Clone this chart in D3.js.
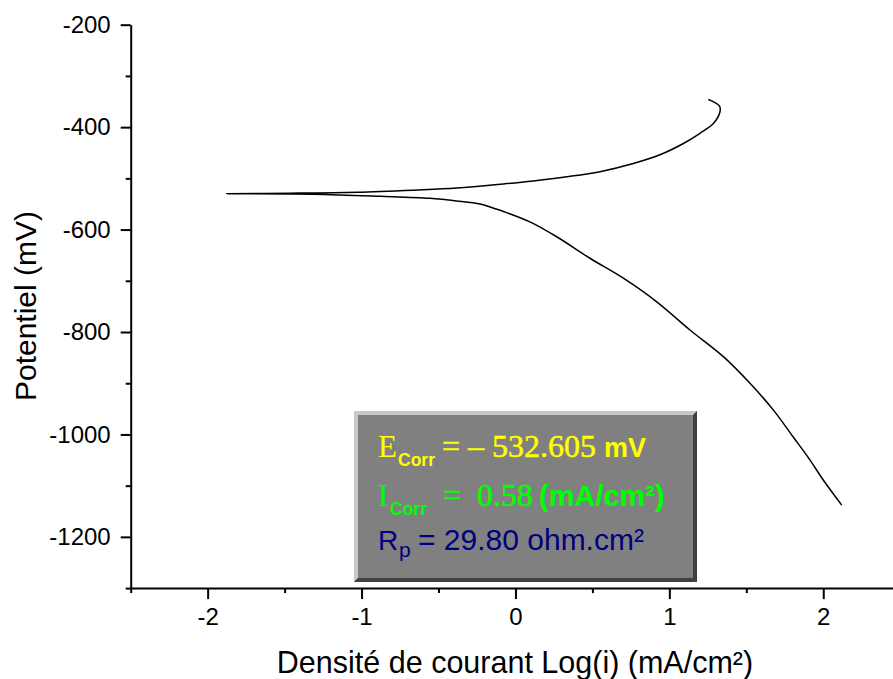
<!DOCTYPE html>
<html>
<head>
<meta charset="utf-8">
<script src="https://cdn.jsdelivr.net/npm/d3@7"></script>
<style>
  html, body { margin: 0; padding: 0; background: #fff; }
  svg { display: block; }
</style>
</head>
<body>
<svg id="chart" width="893" height="679"></svg>
<script>
// ---- Data ----
const logCurrent = [2.12, 2.00, 1.914, 1.805, 1.675, 1.524, 1.351, 1.134, 0.918, 0.701, 0.484, 0.268, 0.094, -0.057, -0.165, -0.23, -0.382, -0.555, -0.88, -1.314, -1.876, -1.465, -1.032, -0.664, -0.382, -0.079, 0.116, 0.333, 0.549, 0.766, 0.939, 1.091, 1.199, 1.286, 1.329, 1.326, 1.29, 1.253];
const potential  = [-1138, -1089, -1050, -1005, -952, -900, -848, -796, -741, -695, -656, -614, -585, -567, -556, -550, -544, -539, -535, -531, -530, -529, -527, -523, -519, -511, -505, -497, -487, -471, -454, -432, -412, -393, -370, -359, -351, -346];

const xMajorTicks = [-2, -1, 0, 1, 2];
const xMinorTicks = [-2.5, -1.5, -0.5, 0.5, 1.5, 2.5];
const yMajorTicks = [-1200, -1000, -800, -600, -400, -200];
const yMinorTicks = [-1300, -1100, -900, -700, -500, -300];

const xTitle = "Densité de courant Log(i) (mA/cm²)";
const yTitle = "Potentiel (mV)";

// ---- Layout ----
const svg = d3.select("#chart");
const x = d3.scaleLinear().domain([-2.5, 2.5]).range([130.7, 900.2]);
const y = d3.scaleLinear().domain([-1300, -200]).range([588.1, 24.7]);
const sans = "'Liberation Sans', Arial, sans-serif";
const serif = "'Liberation Serif', 'Times New Roman', serif";

// X axis
const gx = svg.append("g").attr("transform", `translate(0,${y(-1300)})`);
const gxMajor = gx.append("g").call(d3.axisBottom(x).tickValues(xMajorTicks).tickSize(11).tickSizeOuter(0).tickPadding(9)
  .tickFormat(d => String(d)));
gx.append("g").call(d3.axisBottom(x).tickValues(xMinorTicks).tickSize(5).tickSizeOuter(0).tickFormat(() => ""))
  .call(g => g.select(".domain").remove())
  .call(g => g.selectAll("text").remove());
gxMajor.selectAll("text").attr("font-family", sans).attr("font-size", 24).attr("fill", "#000");

// Y axis
const gy = svg.append("g").attr("transform", `translate(${x(-2.5)},0)`);
const gyMajor = gy.append("g").call(d3.axisLeft(y).tickValues(yMajorTicks).tickSize(10).tickSizeOuter(0).tickPadding(10)
  .tickFormat(d => String(d)));
gy.append("g").call(d3.axisLeft(y).tickValues(yMinorTicks).tickSize(5).tickSizeOuter(0).tickFormat(() => ""))
  .call(g => g.select(".domain").remove())
  .call(g => g.selectAll("text").remove());
gyMajor.selectAll("text").attr("font-family", sans).attr("font-size", 24).attr("fill", "#000");

svg.selectAll(".domain").attr("stroke", "#000").attr("stroke-width", 2);
svg.selectAll(".tick line").attr("stroke", "#000").attr("stroke-width", 2);

// Axis titles
svg.append("text")
  .attr("x", 515).attr("y", 673)
  .attr("text-anchor", "middle")
  .attr("font-family", sans).attr("font-size", 30.5)
  .text(xTitle);
svg.append("text")
  .attr("transform", "translate(36,306) rotate(-90)")
  .attr("text-anchor", "middle")
  .attr("font-family", sans).attr("font-size", 30)
  .text(yTitle);

// Curve
const pts = logCurrent.map((v, i) => [v, potential[i]]);
const line = d3.line().x(d => x(d[0])).y(d => y(d[1])).curve(d3.curveCatmullRom.alpha(0.5));
svg.append("path").datum(pts)
  .attr("d", line)
  .attr("fill", "none").attr("stroke", "#000").attr("stroke-width", 1.5);

// Annotation box with bevel
const bx = 354, by = 411, bw = 343, bh = 171, bev = 4;
const box = svg.append("g");
box.append("rect").attr("x", bx).attr("y", by).attr("width", bw).attr("height", bh).attr("fill", "#808080");
box.append("polygon")
  .attr("points", [[bx, by], [bx + bw, by], [bx + bw - bev, by + bev], [bx + bev, by + bev], [bx + bev, by + bh - bev], [bx, by + bh]].join(" "))
  .attr("fill", "#c8c8c8");
box.append("polygon")
  .attr("points", [[bx + bw, by], [bx + bw, by + bh], [bx, by + bh], [bx + bev, by + bh - bev], [bx + bw - bev, by + bh - bev], [bx + bw - bev, by + bev]].join(" "))
  .attr("fill", "#404040");

// Line 1: E_Corr
const t1 = box.append("text").attr("y", 456.7).attr("fill", "#ffff00");
t1.append("tspan").attr("x", 378).attr("font-family", serif).attr("font-size", 31).text("E");
t1.append("tspan").attr("x", 398).attr("dy", 9.5).attr("font-family", sans).attr("font-weight", "bold").attr("font-size", 17.5).text("Corr");
t1.append("tspan").attr("x", 442).attr("dy", -9.5).attr("font-family", serif).attr("font-size", 32).attr("stroke", "#ffff00").attr("stroke-width", 0.5).text("= – 532.605");
t1.append("tspan").attr("x", 604).attr("font-family", sans).attr("font-weight", "bold").attr("font-size", 27).text("mV");

// Line 2: I_Corr
const t2 = box.append("text").attr("y", 506).attr("fill", "#00ff00");
t2.append("tspan").attr("x", 378).attr("font-family", serif).attr("font-size", 31).text("I");
t2.append("tspan").attr("x", 390).attr("dy", 9).attr("font-family", sans).attr("font-weight", "bold").attr("font-size", 17.5).text("Corr");
t2.append("tspan").attr("x", 443).attr("dy", -9).attr("font-family", serif).attr("font-size", 32).attr("stroke", "#00ff00").attr("stroke-width", 0.5).text("=");
t2.append("tspan").attr("x", 477).attr("font-family", serif).attr("font-size", 32).attr("stroke", "#00ff00").attr("stroke-width", 0.5).text("0.58");
t2.append("tspan").attr("x", 539).attr("font-family", sans).attr("font-weight", "bold").attr("font-size", 29).text("(mA/cm²)");

// Line 3: R_p
const t3 = box.append("text").attr("y", 550).attr("fill", "#000080");
t3.append("tspan").attr("x", 378).attr("font-family", sans).attr("font-size", 28).text("R");
t3.append("tspan").attr("x", 399).attr("dy", 7).attr("font-family", sans).attr("font-size", 21).text("p");
t3.append("tspan").attr("x", 418).attr("dy", -7).attr("font-family", sans).attr("font-size", 30).text("= 29.80 ohm.cm²");
</script>
</body>
</html>
